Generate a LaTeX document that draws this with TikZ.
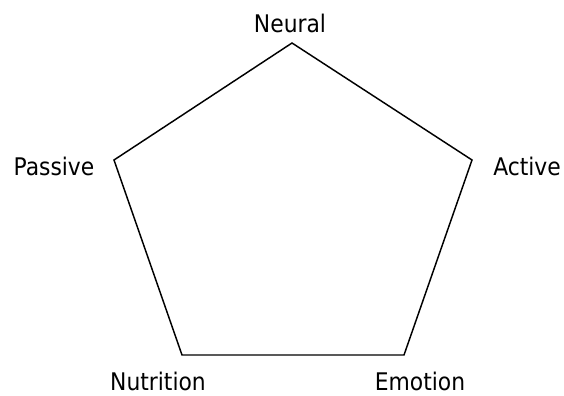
\documentclass[tikz,border=0pt]{standalone}
\usepackage{fontspec}
\setmainfont{DejaVu Sans Condensed}
\usepackage{tikz}
\usetikzlibrary{positioning}

\begin{document}
\begin{tikzpicture}[
  x=0.75pt, y=-0.75pt,
  axislabel/.style={anchor=base, inner sep=0pt, font=\fontsize{18.2}{22}\selectfont},
  edge/.style={line width=1.1pt, line join=miter}
]
\useasboundingbox (0,0) rectangle (564,396);

% Pentagon corners
\coordinate (top)    at (292,43);
\coordinate (right)  at (472,160);
\coordinate (bright) at (404,355);
\coordinate (bleft)  at (182,355);
\coordinate (left)   at (114,160);

\draw[edge] (top) -- (right) -- (bright) -- (bleft) -- (left) -- cycle;

% Labels
\node[axislabel] (neural)    at (290,32)  {Neural};
\node[axislabel] (active)    at (527,175) {Active};
\node[axislabel] (passive)   at (54,175)  {Passive};
\node[axislabel] (nutrition) at (158,390) {Nutrition};
\node[axislabel] (emotion)   at (420,390) {Emotion};
\end{tikzpicture}
\end{document}
